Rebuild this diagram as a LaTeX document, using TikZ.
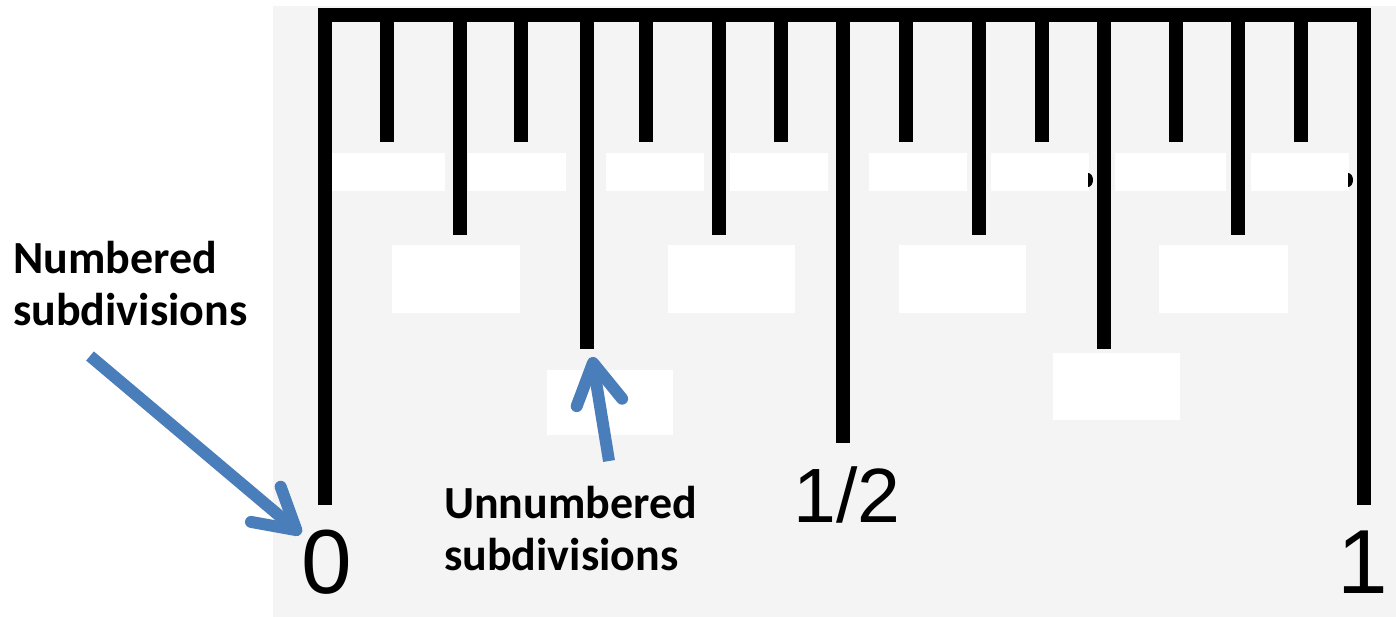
\documentclass[tikz,border=0pt]{standalone}
\usepackage{fontspec}
\newfontfamily\calloutfont{Carlito}
\newfontfamily\rulerdigits{Liberation Sans}
\usetikzlibrary{arrows.meta}
\definecolor{paper}{HTML}{F4F4F4}
\definecolor{pointerblue}{RGB}{74,126,187}

\begin{document}
\begin{tikzpicture}[x=1pt,y=-1pt,
  rulertick/.style={line width=14pt},
  whitebox/.style={fill=white},
  callout/.style={font=\calloutfont\bfseries\fontsize{46}{52}\selectfont, align=left, inner sep=0pt},
  bigdigit/.style={font=\rulerdigits\fontsize{91}{91}\selectfont, inner sep=0pt},
  halfdigit/.style={font=\rulerdigits\fontsize{77}{77}\selectfont, inner sep=0pt},
  bluearrow/.style={draw=pointerblue, line width=12pt,
    -{Straight Barb[round,length=40pt,width=46pt]}}]

% canvas and the grey card behind the ruler
\useasboundingbox (0,0) rectangle (1396,617);
\fill[white] (0,0) rectangle (1396,617);
\fill[paper] (273,6) rectangle (1396,617);

% blank label plates
\foreach \a/\b in {330/445, 468/566, 606/704, 730/828, 869/967, 991/1089, 1115/1226, 1251/1349}
  \fill[whitebox] (\a,153) rectangle (\b,191);
\foreach \a/\b in {392/520, 668/795, 899/1026, 1159/1288}
  \fill[whitebox] (\a,245) rectangle (\b,313);
\fill[whitebox] (547,370) rectangle (673,435);
\fill[whitebox] (1053,353) rectangle (1180,420);

% leftover ink at two plate edges
\fill[black] (1088,187) arc[start angle=90, end angle=-90, x radius=5, y radius=7] -- cycle;
\fill[black] (1348,187) arc[start angle=90, end angle=-90, x radius=5, y radius=7] -- cycle;

% subdivision ticks
\foreach \x/\y in {387/142, 460/235, 521/142, 587/349, 646/142, 719/235, 781/142, 843/443,
                   906/142, 979/235, 1042/142, 1104/349, 1176/142, 1238/235, 1301/142}
  \draw[rulertick] (\x,15.5) -- (\x,\y);

% ruler frame: zero line, top edge, one line
\draw[rulertick, line join=miter] (325,505) -- (325,15.5) -- (1363.5,15.5) -- (1363.5,505);

% numbers
\node[bigdigit, anchor=base] (zero) at (327,593) {0};
\node[halfdigit, anchor=base] (half) at (847,522) {1/2};
\node[bigdigit, anchor=base] (one) at (1363,593) {1};

% callouts
\node[callout, anchor=north west] (numbered) at (13,241) {Numbered\\subdivisions};
\node[callout, anchor=north west] (unnumbered) at (444,486) {Unnumbered\\subdivisions};

% pointers
\coordinate (numtail) at (90,356);
\coordinate (numhead) at (301,534);
\coordinate (unntail) at (609,461);
\coordinate (unnhead) at (592,357);
\draw[bluearrow] (numtail) -- (numhead);
\draw[bluearrow] (unntail) -- (unnhead);
\end{tikzpicture}
\end{document}
